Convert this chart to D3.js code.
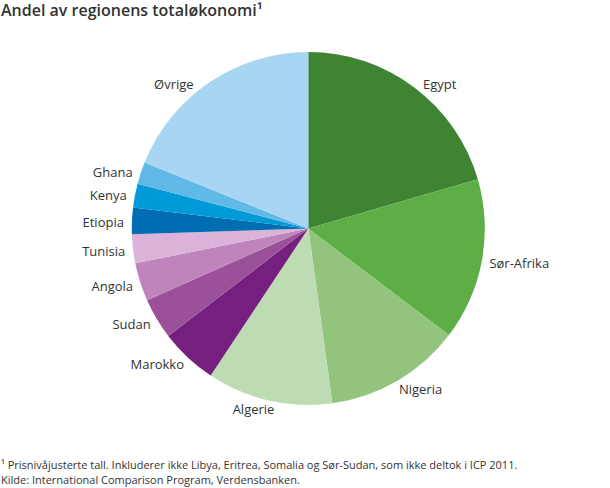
<!DOCTYPE html>
<html><head><meta charset="utf-8">
<script src="https://cdn.jsdelivr.net/npm/d3@7"></script>
<style>
html,body{margin:0;padding:0;background:#fff;}
svg text{font-family:"Open Sans",sans-serif;}
</style></head>
<body><svg id="chart" width="610" height="488"></svg>
<script>
const categories = ["Egypt","Sør-Afrika","Nigeria","Algerie","Marokko","Sudan","Angola","Tunisia","Etiopia","Kenya","Ghana","Øvrige"];
const values = [20.5,14.8,12.5,11.5,5.25,3.75,3.5,2.65,2.4,2.2,2.0,18.9];
const colors = ["#3e8433","#5dae46","#93c47d","#bedcb3","#751f7f","#9b519a","#bf84bc","#dbb3d8","#006db3","#009ad8","#61b9e8","#a8d5f2"];
const title = "Andel av regionens totaløkonomi¹";
const notes = ["¹ Prisnivåjusterte tall. Inkluderer ikke Libya, Eritrea, Somalia og Sør-Sudan, som ikke deltok i ICP 2011.",
               "Kilde: International Comparison Program, Verdensbanken."];

const svg = d3.select("#chart");
const cx = 308.3, cy = 228.5, r = 176.5, rl = 184.5, labelTop = 84;

svg.append("text").attr("x",1).attr("y",16).attr("font-size",16).attr("font-weight",600)
  .attr("fill","#333").text(title);

const data = categories.map((c,i)=>({name:c,value:values[i],color:colors[i]}));
const pie = d3.pie().value(d=>d.value).sort(null);
const arcs = pie(data);
const arc = d3.arc().innerRadius(0).outerRadius(r);

const g = svg.append("g").attr("transform",`translate(${cx},${cy})`);
g.selectAll("path").data(arcs).join("path")
  .attr("d",arc).attr("fill",d=>d.data.color);

g.selectAll("text.lab").data(arcs).join("text").attr("class","lab")
  .attr("font-size",13).attr("fill","#333")
  .attr("dy","0.35em")
  .each(function(d){
    const a = (d.startAngle+d.endAngle)/2;
    let y = -rl*Math.cos(a) + 1.5;
    y = Math.max(y, labelTop - cy);
    const right = Math.sin(a) >= 0;
    const x = (right?1:-1)*Math.sqrt(Math.max(0, rl*rl - y*y));
    d3.select(this).attr("x",x).attr("y",y)
      .attr("text-anchor", right ? "start" : "end")
      .text(d.data.name);
  });

svg.selectAll("text.note").data(notes).join("text").attr("class","note")
  .attr("x",1).attr("y",(d,i)=>469+i*15).attr("font-size",11).attr("fill","#333").text(d=>d);
</script></body></html>
